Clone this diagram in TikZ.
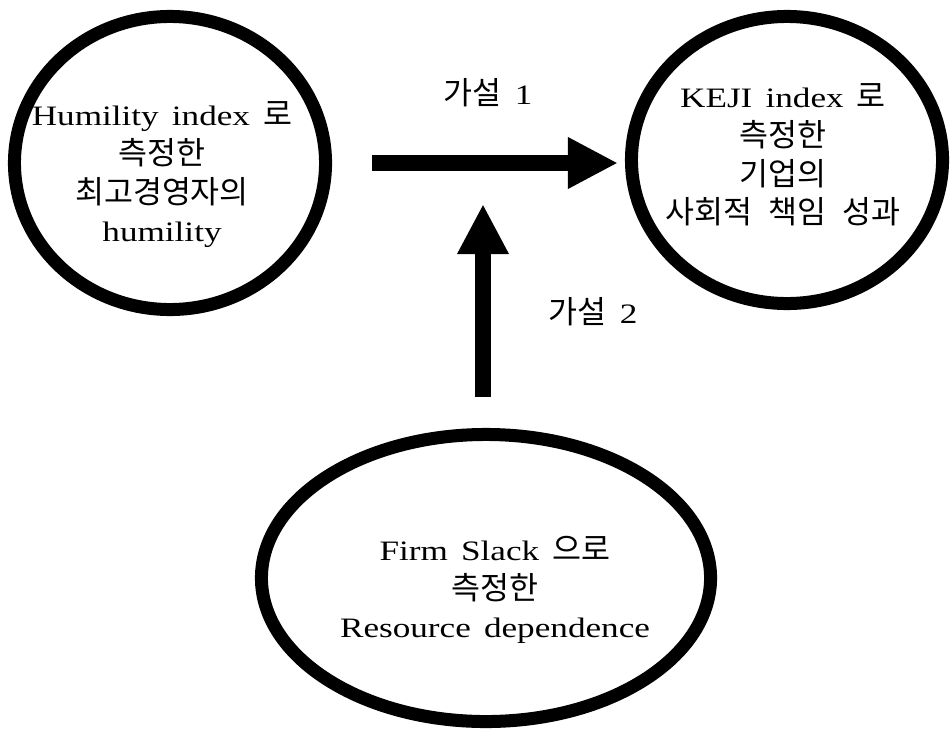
\documentclass[tikz,border=0pt]{standalone}
\usepackage{fontspec}
\setmainfont{Liberation Serif}[FakeStretch=1.25, WordSpace=1.5]
\newfontfamily\korfont{Noto Sans CJK KR}[Scale=1.12, WordSpace=2.3]
\newcommand{\kor}[1]{{\korfont #1}}
\usepackage{tikz}
\usetikzlibrary{arrows.meta, shapes.geometric, positioning}

\begin{document}
\begin{tikzpicture}[x=0.025cm, y=-0.025cm,
    oval/.style={draw=black, line width=0.325cm, ellipse, inner sep=0pt},
    txt/.style={align=center, font=\fontsize{20}{27.5}\selectfont},
    fatarrow/.style={line width=0.4cm, -{Triangle[length=1.25cm, width=1.2cm]}}]

  \useasboundingbox (0,0) rectangle (951,729);

  % Variables
  \node[oval, minimum width=7.775cm, minimum height=7.325cm] (humil) at (170,163) {};
  \node[oval, minimum width=7.775cm, minimum height=7.175cm] (keji) at (787,160) {};
  \node[oval, minimum width=11.225cm, minimum height=7.175cm] (slack) at (486,578) {};

  \node[txt] (humiltxt) at (162,175)
    {Humility index \kor{로}\\ \kor{측정한}\\ \kor{최고경영자의}\\ humility};
  \node[txt] (kejitxt) at (783,155)
    {KEJI index \kor{로}\\ \kor{측정한}\\ \kor{기업의}\\ \kor{사회적 책임 성과}};
  \node[txt] (slacktxt) at (495,590)
    {Firm Slack \kor{으로}\\ \kor{측정한}\\ Resource dependence};

  % Hypotheses
  \draw[fatarrow, shorten <=1cm, shorten >=0.175cm]
    (humil.east) -- (humil.east -| keji.west);
  \node[txt] (hyp1) at (488,93) {\kor{가설} 1};

  \coordinate (modpt) at (483,204);
  \draw[fatarrow, shorten <=0.775cm] (slack.north -| modpt) -- (modpt);
  \node[txt] (hyp2) at (593,312) {\kor{가설} 2};

\end{tikzpicture}
\end{document}
